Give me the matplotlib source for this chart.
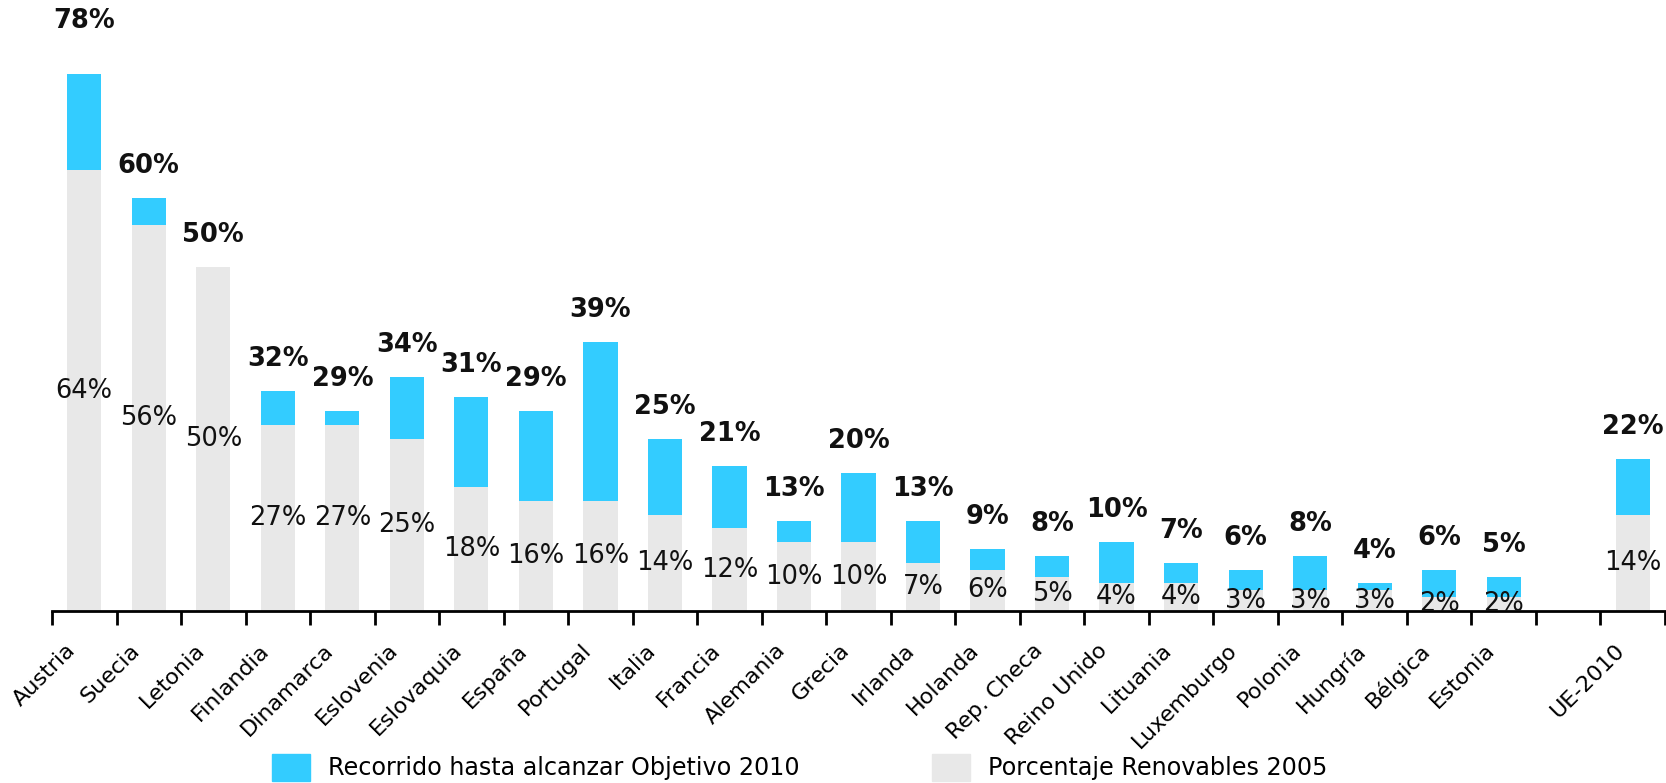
import matplotlib.pyplot as plt
from matplotlib.patches import Patch
from matplotlib.transforms import ScaledTranslation
import numpy as np

paises = ['Austria', 'Suecia', 'Letonia', 'Finlandia', 'Dinamarca', 'Eslovenia',
          'Eslovaquia', 'España', 'Portugal', 'Italia', 'Francia', 'Alemania',
          'Grecia', 'Irlanda', 'Holanda', 'Rep. Checa', 'Reino Unido', 'Lituania',
          'Luxemburgo', 'Polonia', 'Hungría', 'Bélgica', 'Estonia', '', 'UE-2010']
renov_2005 = [64, 56, 50, 27, 27, 25, 18, 16, 16, 14, 12, 10, 10, 7, 6, 5, 4, 4,
              3, 3, 3, 2, 2, None, 14]
objetivo_2010 = [78, 60, 50, 32, 29, 34, 31, 29, 39, 25, 21, 13, 20, 13, 9, 8, 10, 7,
                 6, 8, 4, 6, 5, None, 22]

cyan = '#33CCFF'
grey = '#E8E8E8'

fig = plt.figure(figsize=(16.66, 7.83), dpi=100)
ax = fig.add_axes([0.0312, 0.2197, 0.9682, 0.7803])

x = np.arange(len(paises))
for i in x:
    base = renov_2005[i]
    total = objetivo_2010[i]
    if base is None:
        continue
    ax.bar(i, base, width=0.53, color=grey, zorder=2)
    ax.bar(i, total - base, bottom=base, width=0.53, color=cyan, zorder=2)
    ax.text(i, base / 2, '%d%%' % base, ha='center', va='center',
            fontsize=18.5, color='#111111', zorder=3)
    # the first label sits higher in the original
    dy = 53 if i == 0 else 32
    ax.annotate('%d%%' % total, (i, total), xytext=(0, dy),
                textcoords='offset pixels', ha='center', va='center',
                fontsize=18.5, fontweight='bold', color='#111111')

ax.set_xlim(-0.5, len(paises) - 0.5)
ax.set_ylim(0, 88.7)
ax.set_yticks([])
for s in ['left', 'right', 'top']:
    ax.spines[s].set_visible(False)
ax.spines['bottom'].set_linewidth(2)

ax.set_xticks(x)
ax.set_xticklabels(paises, rotation=45, ha='right', va='center',
                   rotation_mode='anchor', fontsize=16)
ax.tick_params(axis='x', which='major', length=0, pad=26)
shift = ScaledTranslation(-12 / 100, 0, fig.dpi_scale_trans)
for lab in ax.get_xticklabels():
    lab.set_transform(lab.get_transform() + shift)
ax.set_xticks(np.arange(-0.5, len(paises)), minor=True)
ax.tick_params(axis='x', which='minor', length=10, width=2, direction='out')

handles = [Patch(color=cyan, label='Recorrido hasta alcanzar Objetivo 2010'),
           Patch(color=grey, label='Porcentaje Renovables 2005')]
fig.legend(handles=handles, loc='center left', bbox_to_anchor=(0.1576, 0.02),
           ncol=2, frameon=False, fontsize=17.2, handlelength=1.6,
           handleheight=1.4, handletextpad=0.76, columnspacing=5.5,
           borderaxespad=0)

fig.savefig('out.png', dpi=100)
